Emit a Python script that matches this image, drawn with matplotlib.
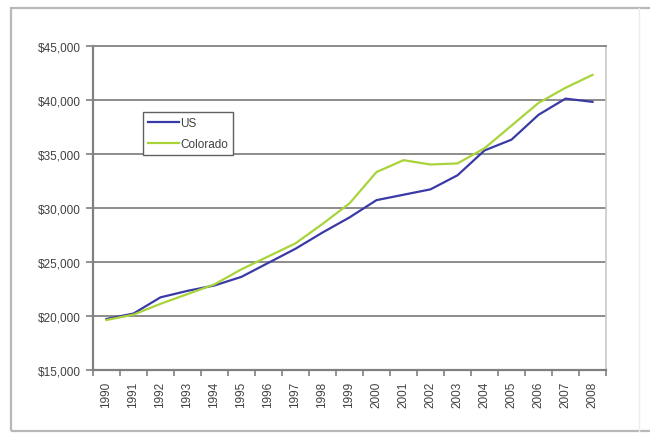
import matplotlib.pyplot as plt
from matplotlib.patches import Rectangle
from matplotlib.lines import Line2D
import matplotlib.ticker as ticker

# per capita personal income, 1990-2008
years = [str(y) for y in range(1990, 2009)]
us_income = [19700, 20200, 21700, 22300, 22800, 23600, 24900, 26200, 27700, 29100,
             30700, 31200, 31700, 33000, 35300, 36300, 38600, 40100, 39800]
co_income = [19600, 20100, 21100, 22000, 22900, 24300, 25500, 26700, 28500, 30400,
             33300, 34400, 34000, 34100, 35500, 37600, 39700, 41100, 42300]

plt.rcParams['font.family'] = ['Liberation Sans', 'DejaVu Sans']

fig = plt.figure(figsize=(6.5, 4.35), dpi=100)

# outer frame round the chart area
fig.add_artist(Rectangle((11 / 650, 1 - 432 / 435), 700 / 650, 423 / 435,
                         transform=fig.transFigure, fill=False,
                         edgecolor='#b8b8b8', linewidth=1.6))
fig.add_artist(Line2D([639 / 650, 639 / 650], [1 - 432 / 435, 1 - 9 / 435],
                      transform=fig.transFigure, color='#ececec', linewidth=1.0))

ax = fig.add_axes([93 / 650, 1 - 370.7 / 435, 513 / 650, 324 / 435])

x = list(range(len(years)))
ax.plot(x, us_income, color='#3a3aa6', linewidth=1.6, label='US', zorder=3)
ax.plot(x, co_income, color='#a8d43a', linewidth=1.6, label='Colorado', zorder=3)

ax.set_xlim(-0.5, len(years) - 0.5)
ax.set_ylim(15000, 45000)

# y axis: dollar ticks with horizontal gridlines
ax.yaxis.set_major_locator(ticker.MultipleLocator(5000))
ax.yaxis.set_major_formatter(ticker.FuncFormatter(lambda v, pos: f'${v:,.0f}'))
ax.grid(True, axis='y', color='#8c8c8c', linewidth=1.4)
ax.set_axisbelow(True)

# x axis: category labels centred, tick marks between categories
ax.set_xticks(x)
ax.set_xticklabels(years, rotation=90)
ax.set_xticks([i - 0.5 for i in range(len(years) + 1)], minor=True)
ax.tick_params(axis='x', which='major', length=0, pad=8)
ax.tick_params(axis='x', which='minor', length=4, width=1.2, color='#808080', direction='out')
ax.tick_params(axis='y', length=5, width=1.2, color='#808080', direction='out', pad=4)
ax.tick_params(axis='both', labelsize=8.5, labelcolor='#404040')

for side in ['left', 'bottom']:
    ax.spines[side].set_color('#808080')
    ax.spines[side].set_linewidth(1.6)
ax.spines['top'].set_color('#8c8c8c')
ax.spines['top'].set_linewidth(1.4)
ax.spines['right'].set_color('#c8c8c8')
ax.spines['right'].set_linewidth(1.2)

leg = ax.legend(loc='upper left', bbox_to_anchor=(143 / 650, 1 - 113 / 435),
                bbox_transform=fig.transFigure, fontsize=8.5, frameon=True,
                fancybox=False, shadow=False, handlelength=2.6, handletextpad=0.1,
                labelspacing=0.75, borderpad=0.45, borderaxespad=0)
leg.get_frame().set_edgecolor('#606060')
leg.get_frame().set_linewidth(1.0)
leg.get_frame().set_alpha(1)
for t in leg.get_texts():
    t.set_color('#404040')

fig.savefig('out.png', dpi=100)
